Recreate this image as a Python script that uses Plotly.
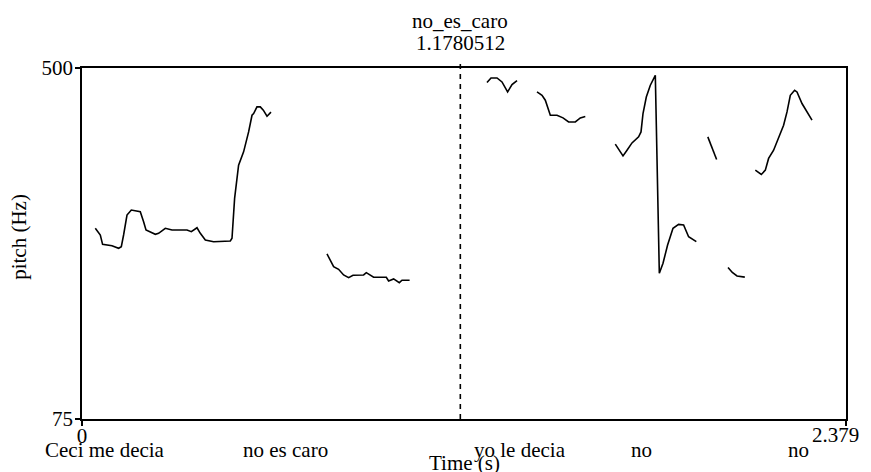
import plotly.graph_objects as go

# ---- data (time in s, pitch in Hz) ----
seg1_t = [0.0414, 0.0570, 0.0641, 0.0934, 0.1140, 0.1224, 0.1295, 0.1401, 0.1535, 0.1815,
          0.1918, 0.1993, 0.2283, 0.2385, 0.2594, 0.2803, 0.3270, 0.3404, 0.3581, 0.3684,
          0.3840, 0.4098, 0.4618, 0.4671, 0.4752, 0.4876, 0.5032, 0.5188, 0.5294, 0.5344,
          0.5449, 0.5552, 0.5646, 0.5761, 0.5885]
seg1_f = [305.9, 297.8, 286.5, 284.8, 281.7, 283.6, 297.8, 321.9, 328.0, 325.9,
          313.9, 303.8, 298.6, 299.8, 305.9, 303.8, 303.8, 301.8, 306.6, 299.8,
          291.7, 289.7, 290.5, 293.8, 342.1, 382.4, 398.5, 422.6, 442.8, 444.9,
          452.9, 452.9, 448.9, 441.6, 446.5]

seg2_t = [0.7629, 0.7732, 0.7835, 0.7990, 0.8146, 0.8302, 0.8439, 0.8769, 0.8853, 0.9080,
          0.9476, 0.9547, 0.9703, 0.9881, 0.9964, 1.0201]
seg2_f = [274.8, 267.6, 259.5, 256.3, 249.4, 246.2, 249.1, 249.4, 252.2, 246.6,
          246.6, 242.2, 244.6, 240.1, 243.0, 243.0]

seg3_t = [1.2611, 1.2736, 1.2923, 1.3078, 1.3253, 1.3390, 1.3546]
seg3_f = [482.4, 487.9, 487.9, 483.1, 471.0, 479.9, 484.8]

seg4_t = [1.4168, 1.4324, 1.4427, 1.4480, 1.4583, 1.4791, 1.4978, 1.5152, 1.5361, 1.5517, 1.5672]
seg4_f = [471.0, 467.0, 461.0, 454.9, 442.8, 442.8, 439.6, 434.7, 434.7, 439.6, 441.3]

seg5_t = [1.6606, 1.6740, 1.6846, 1.6971, 1.7126, 1.7332, 1.7407, 1.7469, 1.7572, 1.7697,
          1.7852, 1.7884, 1.7937, 1.7977, 1.8092, 1.8235, 1.8403, 1.8577, 1.8733, 1.8889, 1.9129]
seg5_f = [407.8, 400.5, 393.6, 400.5, 409.3, 416.6, 422.6, 444.9, 464.9, 479.1,
          491.2, 430.7, 311.9, 251.5, 263.6, 285.7, 305.9, 310.7, 309.9, 295.7, 289.7]

seg6_t = [1.9487, 1.9618, 1.9761]
seg6_f = [416.6, 404.5, 389.3]

seg7_t = [2.0116, 2.0250, 2.0396, 2.0639]
seg7_f = [258.5, 252.4, 248.2, 246.8]

seg8_t = [2.0966, 2.1153, 2.1278, 2.1380, 2.1536, 2.1691, 2.1847, 2.1953, 2.2056, 2.2190,
          2.2264, 2.2420, 2.2576, 2.2731]
seg8_f = [376.3, 371.1, 376.3, 390.5, 400.5, 414.7, 430.7, 446.8, 467.0, 473.0,
          471.0, 457.0, 446.8, 436.8]

segments_t = [seg1_t, seg2_t, seg3_t, seg4_t, seg5_t, seg6_t, seg7_t, seg8_t]
segments_f = [seg1_f, seg2_f, seg3_f, seg4_f, seg5_f, seg6_f, seg7_f, seg8_f]

word_labels = ["Ceci me decia", "no es caro", "yo le decia", "no", "no"]
word_times = [0.0710, 0.6346, 1.3648, 1.7416, 2.2321]

t_min, t_max = 0.0, 2.379
f_min, f_max = 75, 500
t_max_label = "2.379"
cursor_time = 1.1780512
cursor_label = "no_es_caro"
cursor_text = "1.1780512"

FONT = "Liberation Serif, Times New Roman, serif"
FS = 21

xs, ys = [], []
for t, f in zip(segments_t, segments_f):
    xs += t + [None]
    ys += f + [None]

fig = go.Figure()
fig.add_trace(go.Scatter(x=xs, y=ys, mode="lines",
                         line=dict(color="black", width=1.6),
                         connectgaps=False, hoverinfo="skip", showlegend=False))

fig.add_shape(type="line", xref="x", yref="paper", x0=cursor_time, x1=cursor_time,
              y0=0, y1=1.015, line=dict(color="black", width=1.6, dash="5px,5px"))

txt = dict(family=FONT, size=FS, color="black")
ann = []
for lab, t in zip(word_labels, word_times):
    ann.append(dict(x=t, y=-0.088, xref="x", yref="paper", text=lab, showarrow=False,
                    xanchor="center", yanchor="middle", font=txt))
ann.append(dict(x=0.5, y=-0.125, xref="paper", yref="paper", text="Time (s)", showarrow=False,
                xanchor="center", yanchor="middle", font=txt))
ann.append(dict(x=-0.082, y=0.52, xref="paper", yref="paper", text="pitch (Hz)", showarrow=False,
                textangle=-90, xanchor="center", yanchor="middle", font=txt))
ann.append(dict(x=cursor_time, y=1.133, xref="x", yref="paper", text=cursor_label, showarrow=False,
                xanchor="center", yanchor="middle", font=txt))
ann.append(dict(x=cursor_time, y=1.07, xref="x", yref="paper", text=cursor_text, showarrow=False,
                xanchor="center", yanchor="middle", font=txt))
# end-of-axis time label, kept inside the window
ann.append(dict(x=t_max, y=-0.047, xref="x", yref="paper", text=t_max_label, showarrow=False,
                xanchor="right", yanchor="middle", xshift=15, font=txt))

# page body adds an 8px offset; figure size/margins compensate for it
fig.update_layout(
    width=863, height=464,
    margin=dict(l=74, r=25, t=60, b=53, pad=0, autoexpand=False),
    paper_bgcolor="white", plot_bgcolor="white",
    showlegend=False,
    annotations=ann,
    xaxis=dict(range=[t_min, t_max], showgrid=False, zeroline=False, automargin=False,
               showline=True, mirror=True, linecolor="black", linewidth=1.5,
               tickvals=[t_min, t_max], ticktext=["0", ""],
               ticks="outside", ticklen=5, tickcolor="black", tickwidth=1.5,
               ticklabelstandoff=-8, ticklabeloverflow="allow",
               tickfont=txt),
    yaxis=dict(range=[f_min, f_max], showgrid=False, zeroline=False, automargin=False,
               showline=True, mirror=True, linecolor="black", linewidth=1.5,
               tickvals=[f_min, f_max], ticktext=["75", "500"],
               ticks="outside", ticklen=5, tickcolor="black", tickwidth=1.5,
               ticklabelstandoff=-2, ticklabeloverflow="allow",
               tickfont=txt),
)

fig.write_html("out.html")
